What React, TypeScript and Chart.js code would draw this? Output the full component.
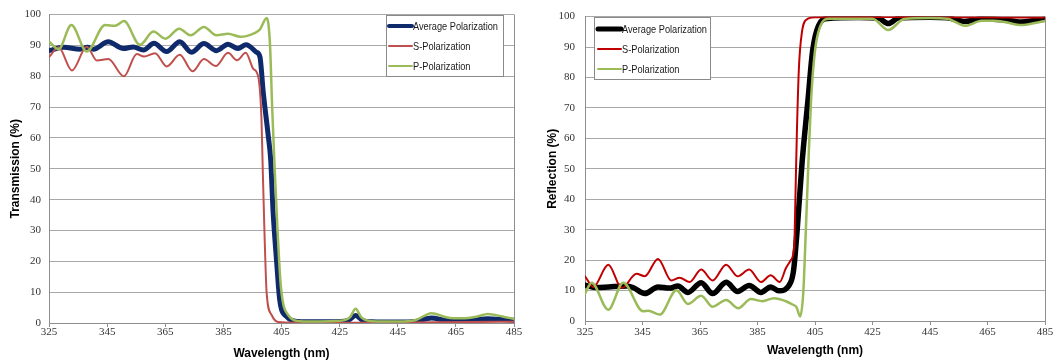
import { useEffect, useRef } from "react";
import { Chart, registerables } from "chart.js";

Chart.register(...registerables);

// Shared wavelength axis ticks (nm)
const wavelengthTicks = [325, 345, 365, 385, 405, 425, 445, 465, 485];

// ---- Transmission (%) ----
const tAvgNm = [325, 330, 335.7, 338.2, 340.3, 345.4, 350.6, 354, 357.5, 361.1, 365.5, 370, 374, 378.3, 382.6, 386.6, 390, 392.8, 396.4, 397.6, 398.7, 400.4, 401.3, 402.1, 403.3, 404.4, 406.7, 410.7, 415, 425, 428, 430.5, 433, 436, 445, 451, 456.6, 462, 467, 471, 476, 481, 485];
const tAvgVal = [88.3, 89.4, 88.8, 89.4, 88.8, 91.2, 89, 89.5, 88.5, 90.7, 88, 91.2, 87.8, 90.6, 88.3, 90.4, 89, 90.2, 87.8, 86.2, 75, 61, 52.7, 36.2, 20.2, 7.4, 2.1, 0.5, 0.4, 0.5, 0.9, 2.4, 0.8, 0.4, 0.3, 0.5, 1.6, 0.8, 0.8, 1, 1.4, 1.1, 0.9];

const tSNm = [325, 328.3, 332.9, 338, 341.5, 345.4, 350.8, 355.2, 357.7, 361.5, 365.5, 370, 374.4, 378.3, 382.4, 386.6, 389.7, 392.7, 395.3, 397, 398.1, 398.5, 399.1, 399.9, 401.6, 403.9, 410, 430, 450, 470, 485];
const tSVal = [86.2, 89.4, 81.9, 89.6, 85.1, 85.6, 80, 87.2, 86.4, 87.5, 83.2, 87, 81.6, 85.6, 83.3, 87.6, 85.2, 87.6, 82.4, 79.8, 66.5, 51.6, 30.8, 9.6, 2.6, 0.3, 0.1, 0.1, 0.2, 0.3, 0.4];

const tPNm = [325, 328.3, 332.7, 338, 344.3, 347.7, 350.8, 356.3, 360.9, 365.1, 369.8, 373.7, 378.3, 382.6, 386.6, 390.9, 395.9, 397.6, 399.9, 401, 401.8, 402.6, 403.6, 404.8, 407.3, 411.3, 418, 425, 428.5, 430.5, 432.5, 436, 445, 451, 456.6, 462, 467, 472, 476, 481, 485];
const tPVal = [91.3, 88.8, 96.6, 88, 96.6, 96.4, 97.9, 90.2, 94.5, 92.2, 95.4, 93.3, 96, 93.3, 93.8, 92.8, 94.1, 95.2, 98.9, 91, 69.7, 51, 30.8, 11.7, 2.6, 0.6, 0.5, 0.7, 1.8, 4.6, 1.8, 0.6, 0.5, 0.9, 3.2, 1.8, 1.5, 2, 2.9, 2.1, 1.3];

// ---- Reflection (%) ----
const rAvgNm = [325, 329, 333.2, 339.4, 341.7, 345.8, 350.4, 354.4, 357.3, 360.8, 365.4, 369.4, 374.1, 378.1, 382.1, 386.2, 389.6, 392.4, 396.5, 397.6, 398.8, 400.5, 402.5, 404.2, 406.2, 409.5, 420, 427, 430.5, 434, 445, 451, 457.2, 463, 470, 476.8, 482, 485];
const rAvgVal = [11.8, 11, 11.2, 11.5, 11, 9, 11.2, 10.8, 11.5, 9.4, 12.6, 9, 12.7, 9.7, 11.7, 9.4, 11.2, 9.9, 12.6, 17, 30, 52, 72, 89, 97, 99.4, 99.7, 99.5, 97.7, 99.5, 99.8, 99.6, 98.4, 99.2, 99, 98.2, 98.8, 99.1];

const rSNm = [325, 327.9, 333.1, 337.8, 342.9, 345.8, 350.4, 355, 357.9, 361.4, 365.4, 369.4, 374.1, 378.1, 382.1, 386.2, 389.6, 392.7, 394.9, 396.6, 397.8, 398.2, 398.7, 399.4, 400.4, 402, 405, 430, 455, 470, 485];
const rSVal = [14.7, 11.2, 18.5, 10.8, 15.5, 14.7, 20.4, 13.3, 14.2, 12.8, 16.9, 13.3, 18.5, 14.7, 16.9, 12.8, 15, 12.8, 17.4, 20, 25, 41, 62, 83, 94.5, 99, 99.8, 99.9, 99.8, 99.7, 99.7];

const rPNm = [325, 327.3, 333.1, 338.3, 345.2, 347, 351, 356.8, 360.8, 365.4, 369.4, 374.1, 378.3, 382.7, 386.7, 390.8, 394.9, 397, 398.6, 399.8, 400.9, 401.9, 402.7, 403.6, 404.9, 406.7, 410, 425, 430.5, 436, 445, 451, 457.2, 463, 467, 471, 476.8, 482, 485];
const rPVal = [9, 12.6, 3.7, 12.6, 3.2, 3.4, 2.1, 10.1, 5.6, 8.3, 4.7, 6.9, 4.2, 7.2, 6.5, 7.5, 6.5, 5.5, 4.5, 1.5, 9, 32, 52, 72, 88, 96.5, 99.3, 99.3, 95.6, 99.2, 99.5, 99.3, 97, 98.6, 98.6, 98.2, 97.2, 98, 98.6];

const seriesLabels = ["Average Polarization", "S-Polarization", "P-Polarization"];

const GRID = "#a8a8a8";
const AXIS = "#8e8e8e";
const TICK_FONT = "'Liberation Serif', 'Times New Roman', serif";
const TITLE_FONT = "'Liberation Sans', Arial, sans-serif";
const LEGEND_FONT = "11.5px 'Liberation Sans', Arial, sans-serif";

type Series = { label: string; nm: number[]; val: number[]; color: string; width: number };

const toPoints = (nm: number[], val: number[]) => nm.map((x, i) => ({ x, y: val[i] }));

// Boxed legend drawn inside the plot area; labels are condensed to a common text width
const boxLegendPlugin = {
  id: "boxLegend",
  afterDraw(chart: any, _args: any, o: any) {
    if (!o || o.w == null) return;
    const ctx = chart.ctx as CanvasRenderingContext2D;
    ctx.save();
    ctx.fillStyle = "#ffffff";
    ctx.fillRect(o.x, o.y, o.w, o.h);
    ctx.strokeStyle = "#8a8a8a";
    ctx.lineWidth = 1;
    ctx.strokeRect(o.x + 0.5, o.y + 0.5, o.w, o.h);
    ctx.font = LEGEND_FONT;
    ctx.textBaseline = "middle";
    ctx.textAlign = "left";
    const labels: string[] = chart.data.datasets.map((d: any) => d.label);
    const widest = Math.max(...labels.map((l) => ctx.measureText(l).width));
    const sx = Math.min(1, o.textWidth / widest);
    chart.data.datasets.forEach((ds: any, i: number) => {
      const y = o.y + o.rowY + i * o.rowGap;
      ctx.strokeStyle = ds.borderColor;
      ctx.lineWidth = o.samples[i];
      ctx.lineCap = "round";
      ctx.beginPath();
      ctx.moveTo(o.x + o.sampleX, y);
      ctx.lineTo(o.x + o.sampleX + o.sampleLen, y);
      ctx.stroke();
      ctx.save();
      ctx.translate(o.x + o.textX, y + 0.5);
      ctx.scale(sx, 1);
      ctx.fillStyle = "#1a1a1a";
      ctx.fillText(ds.label, 0, 0);
      ctx.restore();
    });
    ctx.restore();
  },
};

type PanelProps = {
  left: number;
  width: number;
  series: Series[];
  yTitle: string;
  pad: { top: number; right: number; left: number; bottom: number };
  yAxisWidth: number;
  xAxisHeight: number;
  yTickPad: number;
  yTitlePad: number;
  xTickPad: number;
  xTitlePad: number;
  legend: any;
};

function Panel(p: PanelProps) {
  const ref = useRef<HTMLCanvasElement>(null);
  useEffect(() => {
    const chart = new Chart(ref.current as HTMLCanvasElement, {
      type: "line",
      data: {
        datasets: p.series.map((s, i) => ({
          label: s.label,
          data: toPoints(s.nm, s.val),
          borderColor: s.color,
          backgroundColor: s.color,
          borderWidth: s.width,
          pointRadius: 0,
          fill: false,
          cubicInterpolationMode: "monotone" as const,
          borderJoinStyle: "round" as const,
          borderCapStyle: "round" as const,
          order: p.series.length - i,
        })),
      },
      options: {
        responsive: false,
        animation: false,
        layout: { padding: p.pad },
        plugins: {
          legend: { display: false },
          tooltip: { enabled: false },
          boxLegend: p.legend,
        } as any,
        scales: {
          x: {
            type: "linear",
            min: 325,
            max: 485,
            afterBuildTicks: (s: any) => {
              s.ticks = wavelengthTicks.map((v) => ({ value: v }));
            },
            afterFit: (s: any) => {
              s.height = p.xAxisHeight;
            },
            grid: {
              color: (c: any) => (c.tick && c.tick.value === 485 ? AXIS : "rgba(0,0,0,0)"),
              tickColor: AXIS,
              tickLength: 4,
              lineWidth: 1,
            },
            border: { display: true, color: AXIS, width: 1 },
            ticks: {
              autoSkip: false,
              maxRotation: 0,
              padding: p.xTickPad,
              color: "#333333",
              font: { family: TICK_FONT, size: 11 },
            },
            title: {
              display: true,
              text: "Wavelength (nm)",
              color: "#000000",
              font: { family: TITLE_FONT, size: 12, weight: "bold" },
              padding: { top: 0, bottom: p.xTitlePad },
            },
          },
          y: {
            min: 0,
            max: 100,
            afterFit: (s: any) => {
              s.width = p.yAxisWidth;
            },
            grid: { color: GRID, lineWidth: 1, drawTicks: false },
            border: { display: true, color: AXIS, width: 1 },
            ticks: {
              stepSize: 10,
              padding: p.yTickPad,
              color: "#333333",
              font: { family: TICK_FONT, size: 11 },
            },
            title: {
              display: true,
              text: p.yTitle,
              color: "#000000",
              font: { family: TITLE_FONT, size: 12, weight: "bold" },
              padding: { top: p.yTitlePad, bottom: 0 },
            },
          },
        },
      },
      plugins: [boxLegendPlugin],
    });
    return () => chart.destroy();
  }, []);
  return (
    <canvas
      ref={ref}
      width={p.width}
      height={363}
      style={{ position: "absolute", left: p.left, top: 0, width: p.width, height: 363 }}
    />
  );
}

const transmissionSeries: Series[] = [
  { label: seriesLabels[0], nm: tAvgNm, val: tAvgVal, color: "#0f2a6b", width: 5 },
  { label: seriesLabels[1], nm: tSNm, val: tSVal, color: "#c0504d", width: 2 },
  { label: seriesLabels[2], nm: tPNm, val: tPVal, color: "#9bbb59", width: 2.5 },
];

const reflectionSeries: Series[] = [
  { label: seriesLabels[0], nm: rAvgNm, val: rAvgVal, color: "#000000", width: 5.5 },
  { label: seriesLabels[1], nm: rSNm, val: rSVal, color: "#c00000", width: 2 },
  { label: seriesLabels[2], nm: rPNm, val: rPVal, color: "#9bbb59", width: 2.5 },
];

export default function App() {
  return (
    <div
      style={{
        position: "fixed",
        left: 0,
        top: 0,
        width: 1059,
        height: 363,
        background: "#ffffff",
        overflow: "hidden",
      }}
    >
      <Panel
        left={0}
        width={530}
        series={transmissionSeries}
        yTitle="Transmission (%)"
        pad={{ top: 10, right: 16, left: 0, bottom: 0 }}
        yAxisWidth={49}
        xAxisHeight={40}
        yTickPad={8}
        yTitlePad={8}
        xTickPad={-1}
        xTitlePad={2}
        legend={{ x: 386, y: 15, w: 117, h: 61, rowY: 11, rowGap: 20, sampleX: 3, sampleLen: 23, textX: 27, textWidth: 85, samples: [4, 2, 2] }}
      />
      <Panel
        left={530}
        width={529}
        series={reflectionSeries}
        yTitle="Reflection (%)"
        pad={{ top: 11, right: 14, left: 0, bottom: 0 }}
        yAxisWidth={55}
        xAxisHeight={42}
        yTickPad={10}
        yTitlePad={15}
        xTickPad={1}
        xTitlePad={5}
        legend={{ x: 64, y: 17, w: 116, h: 62, rowY: 12, rowGap: 20, sampleX: 4, sampleLen: 23, textX: 28, textWidth: 85, samples: [5, 2, 2] }}
      />
    </div>
  );
}
